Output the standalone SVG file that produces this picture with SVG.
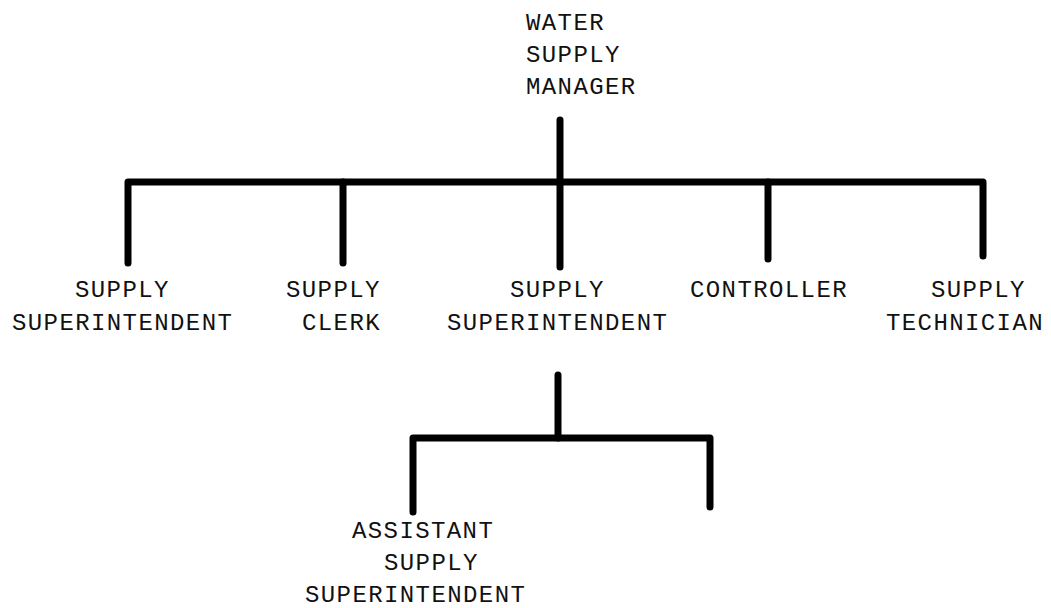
<svg xmlns="http://www.w3.org/2000/svg" width="1051" height="608" viewBox="0 0 1051 608">
  <style>
    .lbl { font-family: "Liberation Mono", "DejaVu Sans Mono", monospace; font-size: 24px; letter-spacing: 1.4px; fill: #111; }
    .ln { stroke: #000; stroke-width: 7; stroke-linecap: round; stroke-linejoin: round; fill: none; }
  </style>
  <rect width="1051" height="608" fill="#fff"/>

  <!-- reporting lines -->
  <g id="connectors">
    <path class="ln" d="M560 120 V267"/>
    <path class="ln" d="M128 263 V182 H983 V256"/>
    <path class="ln" d="M343 182 V263"/>
    <path class="ln" d="M768 182 V259"/>
    <path class="ln" d="M558 375 V438"/>
    <path class="ln" d="M413 512 V438 H710 V507"/>
  </g>

  <g id="manager">
    <text class="lbl" x="526" y="30">WATER</text>
    <text class="lbl" x="526" y="62">SUPPLY</text>
    <text class="lbl" x="526" y="94">MANAGER</text>
  </g>

  <g id="superintendent-left">
    <text class="lbl" x="75" y="297">SUPPLY</text>
    <text class="lbl" x="12" y="330">SUPERINTENDENT</text>
  </g>

  <g id="clerk">
    <text class="lbl" x="286" y="297">SUPPLY</text>
    <text class="lbl" x="302" y="330">CLERK</text>
  </g>

  <g id="superintendent-centre">
    <text class="lbl" x="510" y="297">SUPPLY</text>
    <text class="lbl" x="447" y="330">SUPERINTENDENT</text>
  </g>

  <g id="controller">
    <text class="lbl" x="690" y="297">CONTROLLER</text>
  </g>

  <g id="technician">
    <text class="lbl" x="931" y="297">SUPPLY</text>
    <text class="lbl" x="886" y="330">TECHNICIAN</text>
  </g>

  <g id="assistant">
    <text class="lbl" x="352" y="538">ASSISTANT</text>
    <text class="lbl" x="384" y="570">SUPPLY</text>
    <text class="lbl" x="305" y="602">SUPERINTENDENT</text>
  </g>
</svg>
